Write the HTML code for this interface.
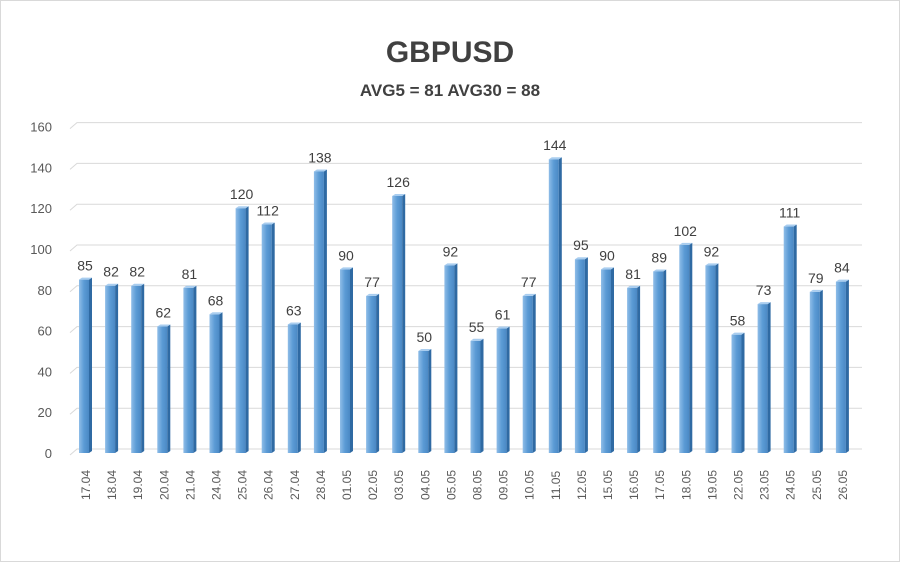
<!DOCTYPE html>
<html><head><style>
body{margin:0;background:#fff;}
svg{display:block;font-family:"Liberation Sans",sans-serif;}
</style></head><body>
<svg width="900" height="562" viewBox="0 0 900 562">
<defs>
<linearGradient id="g" x1="0" x2="1">
<stop offset="0" stop-color="#8fbde8"/><stop offset="0.5" stop-color="#5b9bd5"/><stop offset="1" stop-color="#4a88c4"/>
</linearGradient>
</defs>
<rect x="0.5" y="0.5" width="899" height="561" fill="#fff" stroke="#d9d9d9"/>
<text x="450" y="62" text-anchor="middle" font-size="30" font-weight="bold" fill="#404040">GBPUSD</text>
<text x="450" y="96" text-anchor="middle" font-size="17" font-weight="bold" fill="#404040">AVG5 = 81 AVG30 = 88</text>
<g id="grid" stroke="#d9d9d9" stroke-width="1" fill="none"></g>
<g id="ylab" font-size="13" fill="#595959" text-anchor="end"></g>
<g id="bars"></g>
<g id="vals" font-size="14" fill="#404040" text-anchor="middle"></g>
<g id="xlab" font-size="12" fill="#595959"></g>
<script>
var ns="http://www.w3.org/2000/svg";
function el(p,t,a,txt){var e=document.createElementNS(ns,t);for(var k in a)e.setAttribute(k,a[k]);if(txt!=null)e.textContent=txt;document.getElementById(p).appendChild(e);}
var y0=453,k=2.04;
for(var v=0;v<=160;v+=20){var y=y0-v*k;
el("grid","path",{d:"M70 "+(y+2)+" L77 "+(y-4)+" L862 "+(y-4)});
el("ylab","text",{x:52,y:y+5},v);}
var d=[85,82,82,62,81,68,120,112,63,138,90,77,126,50,92,55,61,77,144,95,90,81,89,102,92,58,73,111,79,84];
var l=["17.04","18.04","19.04","20.04","21.04","24.04","25.04","26.04","27.04","28.04","01.05","02.05","03.05","04.05","05.05","08.05","09.05","10.05","11.05","12.05","15.05","16.05","17.05","18.05","19.05","22.05","23.05","24.05","25.05","26.05"];
for(var i=0;i<30;i++){var x=79+i*26.1,h=d[i]*k,t=y0-h;
el("bars","rect",{x:x,y:t,width:10,height:h,fill:"url(#g)"});
el("bars","polygon",{points:(x+10)+","+t+" "+(x+13)+","+(t-2)+" "+(x+13)+","+(y0-2)+" "+(x+10)+","+y0,fill:"#2f6aa3"});
el("bars","polygon",{points:x+","+t+" "+(x+3)+","+(t-2)+" "+(x+13)+","+(t-2)+" "+(x+10)+","+t,fill:"#a9cdef"});
el("vals","text",{x:x+6,y:t-9},d[i]);
el("xlab","text",{x:0,y:0,transform:"translate("+(x+11)+",500) rotate(-90)"},l[i]);}
</script>
</svg>
</body></html>
